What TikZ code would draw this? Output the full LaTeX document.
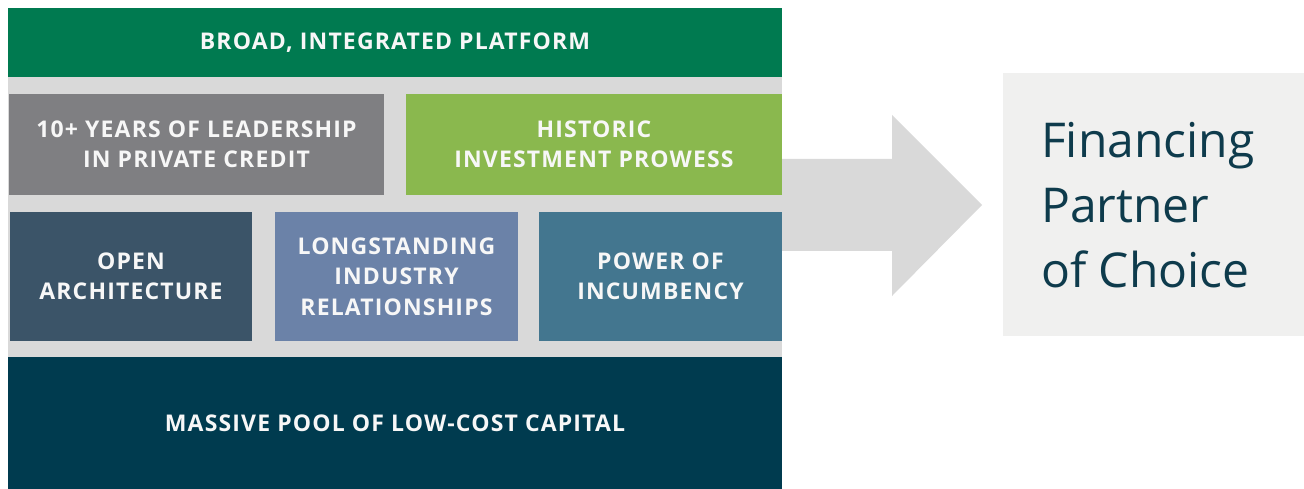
\documentclass[tikz,border=0pt]{standalone}
\usepackage{fontspec}
\setmainfont{Open Sans}
\usetikzlibrary{positioning}

\definecolor{platgreen}{HTML}{007A50}
\definecolor{leadgray}{HTML}{7F7F82}
\definecolor{histgreen}{HTML}{8AB84E}
\definecolor{openslate}{HTML}{3B5468}
\definecolor{longblue}{HTML}{6B82A8}
\definecolor{powerteal}{HTML}{43768F}
\definecolor{poolnavy}{HTML}{003B4F}
\definecolor{gapgray}{HTML}{D9D9D9}
\definecolor{choicegray}{HTML}{F0F0EF}
\definecolor{choicetext}{HTML}{0E3B4C}

\tikzset{
  block/.style={rectangle, inner sep=0pt, outer sep=0pt, anchor=north west,
    text=white!94!gray, align=center,
    font=\fontsize{23}{30.5}\selectfont\bfseries\addfontfeatures{LetterSpace=5}},
}

\begin{document}
\begin{tikzpicture}[x=1pt,y=-1pt]
                        \useasboundingbox (0,0) rectangle (1304,489);
                        % Background
                        \fill[gapgray] (8,77) rectangle (782,489);

                        % Nodes
                        \node[block, fill=platgreen, minimum width=774, minimum height=69] (platform) at (8,8) {BROAD, INTEGRATED PLATFORM};
                        \node[block, fill=leadgray, minimum width=375, minimum height=101] (leadership) at (9,94) {10+ YEARS OF LEADERSHIP\\IN PRIVATE CREDIT};
                        \node[block, fill=histgreen, minimum width=376, minimum height=101] (prowess) at (406,94) {HISTORIC\\INVESTMENT PROWESS};
                        \node[block, fill=openslate, minimum width=242, minimum height=129] (open) at (10,212) {OPEN\\ARCHITECTURE};
                        \node[block, fill=longblue, minimum width=243, minimum height=129] (relations) at (275,212) {LONGSTANDING\\INDUSTRY\\RELATIONSHIPS};
                        \node[block, fill=powerteal, minimum width=243, minimum height=129] (power) at (539,212) {POWER OF\\INCUMBENCY};
                        \node[block, fill=poolnavy, minimum width=774, minimum height=132] (pool) at (8,357) {MASSIVE POOL OF LOW-COST CAPITAL};

                        \node[rectangle, fill=choicegray, inner sep=0pt, anchor=north west, minimum width=310, minimum height=263] (choice) at (1003,73) {};
                        \node[right=38pt of choice.west, inner sep=0pt, align=left, text=choicetext, font=\fontsize{48}{65}\selectfont] (partner) {Financing\\Partner\\of Choice};

                        % Arrow
                        \fill[gapgray] (782,159) -- (892,159) -- (892,115) -- (982,205)
                          -- (892,296) -- (892,251) -- (782,251) -- cycle;
                    \end{tikzpicture}
\end{document}
